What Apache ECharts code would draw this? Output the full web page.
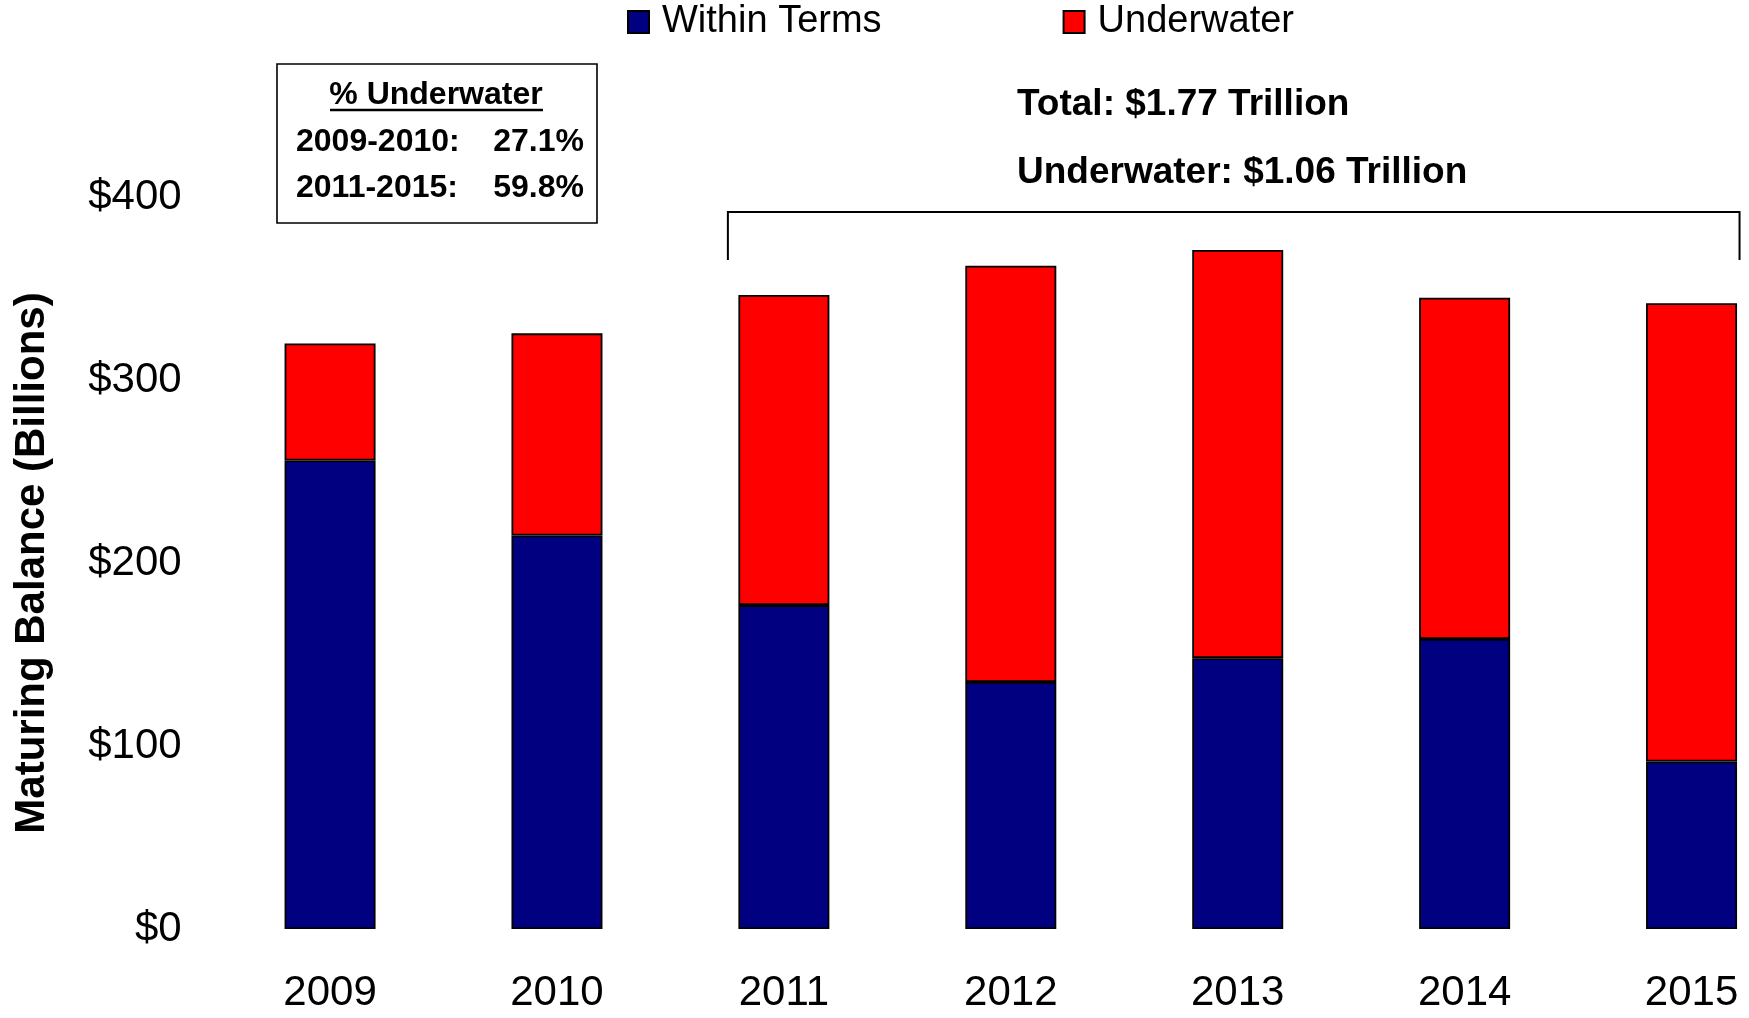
<!DOCTYPE html>
<html>
<head>
<meta charset="utf-8">
<script src="https://cdn.jsdelivr.net/npm/echarts@6/dist/echarts.min.js"></script>
<style>
  html, body { margin: 0; padding: 0; background: #fff; overflow: hidden; }
  #chart { width: 1810px; height: 1018px; }
</style>
</head>
<body>
<div id="chart"></div>
<script>
// Maturing balance by year, in billions of dollars
const years = ['2009', '2010', '2011', '2012', '2013', '2014', '2015'];
const withinTerms = [256, 215, 177, 135, 148, 158.5, 91.5];
const underwater = [64, 110.5, 169.5, 227.5, 223, 186.5, 250.5];
const yTicks = [0, 100, 200, 300, 400];

const summaryRows = [
  ['2009-2010:', '27.1%'],
  ['2011-2015:', '59.8%']
];
const totalNote = 'Total: $1.77 Trillion';
const underwaterNote = 'Underwater: $1.06 Trillion';

const FONT = '"Liberation Sans", Arial, sans-serif';
const chart = echarts.init(document.getElementById('chart'));

const barStyle = (color) => ({ color: color, borderColor: '#000', borderWidth: 1.8 });

chart.setOption({
  animation: false,
  backgroundColor: '#ffffff',
  textStyle: { fontFamily: FONT },
  legend: {
    top: -2,
    left: 622,
    itemWidth: 21,
    itemHeight: 22,
    itemGap: 181,
    icon: 'rect',
    textStyle: { fontFamily: FONT, fontSize: 38, color: '#000', lineHeight: 38, padding: [0, 0, 0, 8] },
    data: ['Within Terms', 'Underwater']
  },
  // the plot runs a little past the right edge of the page, as the last bar sits flush against it
  grid: { left: 216.6, right: 5, top: 197, bottom: 89, containLabel: false },
  xAxis: {
    type: 'category',
    data: years,
    axisLine: { show: false },
    axisTick: { show: false },
    axisLabel: { fontFamily: FONT, fontSize: 42, color: '#000', margin: 43, lineHeight: 42 }
  },
  yAxis: {
    type: 'value',
    min: yTicks[0],
    max: yTicks[yTicks.length - 1],
    interval: 100,
    name: 'Maturing Balance (Billions)',
    nameLocation: 'middle',
    nameGap: 163,
    nameTextStyle: { fontFamily: FONT, fontSize: 42, fontWeight: 'bold', color: '#000' },
    axisLine: { show: false },
    axisTick: { show: false },
    splitLine: { show: false },
    axisLabel: {
      fontFamily: FONT, fontSize: 42, color: '#000', margin: 35,
      formatter: (v) => '$' + v
    }
  },
  series: [
    {
      name: 'Within Terms', type: 'bar', stack: 'total', barWidth: 91,
      data: withinTerms, itemStyle: barStyle('#000080')
    },
    {
      name: 'Underwater', type: 'bar', stack: 'total', barWidth: 91,
      data: underwater, itemStyle: barStyle('#ff0000')
    }
  ]
});

// Bracket over 2011-2015, anchored to the outer edges of those bars
const bandStart = chart.convertToPixel({ xAxisIndex: 0 }, years[2]);
const bandEnd = chart.convertToPixel({ xAxisIndex: 0 }, years[6]);
const bx1 = bandStart - 56;
const bx2 = bandEnd + 48;
const by = 212, byEnd = 260;

const summaryGraphics = [
  {
    type: 'rect', shape: { x: 277, y: 64, width: 320, height: 159 },
    style: { fill: '#fff', stroke: '#000', lineWidth: 1.6 }
  },
  {
    type: 'text', x: 436, y: 95,
    style: { text: '% Underwater', font: 'bold 32px ' + FONT, fill: '#000', align: 'center', verticalAlign: 'middle' }
  },
  {
    type: 'line', shape: { x1: 330, y1: 110, x2: 543, y2: 110 },
    style: { stroke: '#000', lineWidth: 2.5 }
  }
];
summaryRows.forEach((row, i) => {
  const y = 142.5 + i * 45.5;
  summaryGraphics.push({
    type: 'text', x: 296, y: y,
    style: { text: row[0], font: 'bold 32px ' + FONT, fill: '#000', align: 'left', verticalAlign: 'middle' }
  });
  summaryGraphics.push({
    type: 'text', x: 584, y: y,
    style: { text: row[1], font: 'bold 32px ' + FONT, fill: '#000', align: 'right', verticalAlign: 'middle' }
  });
});

chart.setOption({
  graphic: summaryGraphics.concat([
    {
      type: 'text', x: 1017, y: 105,
      style: { text: totalNote, font: 'bold 37px ' + FONT, fill: '#000', align: 'left', verticalAlign: 'middle' }
    },
    {
      type: 'text', x: 1017, y: 173,
      style: { text: underwaterNote, font: 'bold 37px ' + FONT, fill: '#000', align: 'left', verticalAlign: 'middle' }
    },
    {
      type: 'polyline',
      shape: { points: [[bx1, byEnd], [bx1, by], [bx2, by], [bx2, byEnd]] },
      style: { stroke: '#000', lineWidth: 2, fill: null }
    }
  ])
});
</script>
</body>
</html>
